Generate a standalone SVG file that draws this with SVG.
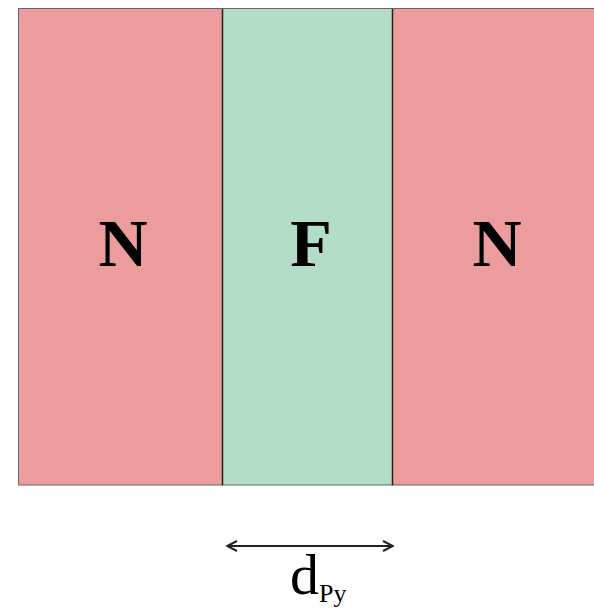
<svg xmlns="http://www.w3.org/2000/svg" width="594" height="609" viewBox="0 0 594 609">
<defs>
<style>
.n{fill:#ED9C9E;stroke:#666;stroke-width:1}
.f{fill:#B3DDC7;stroke:#666;stroke-width:1}
.div{stroke:#222;stroke-width:1.5}
.lbl{font-family:"Liberation Serif",serif;font-weight:bold;font-size:68px;fill:#000;text-anchor:middle}
.dim{font-family:"Liberation Serif",serif;fill:#000}
</style>
<marker id="ah" viewBox="0 0 12 12" refX="11" refY="6" markerWidth="12" markerHeight="12" markerUnits="userSpaceOnUse" orient="auto-start-reverse">
<path d="M1,1 L11,6 L1,11" fill="none" stroke="#222" stroke-width="2"/>
</marker>
</defs>
<g id="N1"><rect class="n" x="18.5" y="8.5" width="204" height="476.5"/><text class="lbl" x="123" y="266">N</text></g>
<g id="F"><rect class="f" x="222.5" y="8.5" width="170" height="476.5"/><text class="lbl" x="311" y="266">F</text></g>
<g id="N2"><rect class="n" x="392.5" y="8.5" width="210" height="476.5"/><text class="lbl" x="497" y="266">N</text></g>
<line class="div" x1="222.5" y1="9" x2="222.5" y2="485"/>
<line class="div" x1="392.5" y1="9" x2="392.5" y2="485"/>
<g id="connectors">
<line x1="227" y1="546" x2="393" y2="546" stroke="#222" stroke-width="2" marker-start="url(#ah)" marker-end="url(#ah)"/>
</g>
<text class="dim" x="290" y="594" font-size="58">d<tspan font-size="26" dy="8">Py</tspan></text>
</svg>
